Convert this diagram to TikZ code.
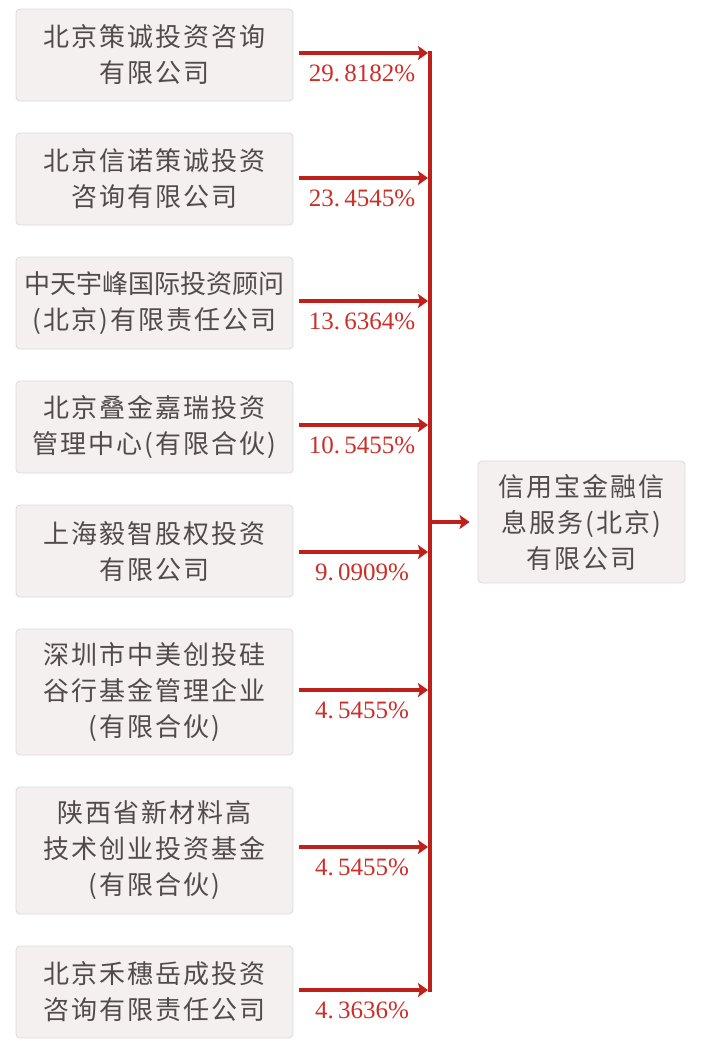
\documentclass[tikz,border=0pt]{standalone}
\usepackage{fontspec}
\newfontfamily\cjk[LetterSpace=8]{Noto Sans CJK SC}
\newfontfamily\cjktight{Noto Sans CJK SC}
\newfontfamily\pctfont{Liberation Serif}
\usetikzlibrary{arrows.meta}
\definecolor{boxfill}{HTML}{F3F0EF}
\definecolor{boxline}{HTML}{DEDAD9}
\definecolor{txtgray}{HTML}{524B4B}
\definecolor{linered}{HTML}{C0201A}
\definecolor{pctred}{HTML}{CC2E28}
\tikzset{
  holder/.style={draw=boxline, fill=boxfill, rounded corners=4pt, line width=0.8pt,
    minimum width=277pt, align=center, inner sep=0pt, text=txtgray,
    font=\cjk\fontsize{26}{36}\selectfont},
  target/.style={holder, minimum width=207pt, minimum height=122pt},
  feed/.style={draw=linered, line width=3.5pt,
    -{Stealth[length=10pt,width=14pt,inset=2pt]}},
  busline/.style={draw=linered, line width=4pt},
  pct/.style={text=pctred, font=\pctfont\fontsize{25}{25}\selectfont, inner sep=0pt}
}
\begin{document}
\begin{tikzpicture}[x=1pt,y=-1pt]
\useasboundingbox (0,0) rectangle (702,1060);
\node[holder, minimum height=92pt]  (b1) at (154.5,55)  {北京策诚投资咨询\\有限公司};
\node[holder, minimum height=92pt]  (b2) at (154.5,179) {北京信诺策诚投资\\咨询有限公司};
\node[holder, minimum height=92pt]  (b3) at (154.5,303) {{\cjktight 中天宇峰国际投资顾问}\\(北京)有限责任公司};
\node[holder, minimum height=92pt]  (b4) at (154.5,427) {北京叠金嘉瑞投资\\管理中心(有限合伙)};
\node[holder, minimum height=92pt]  (b5) at (154.5,551) {上海毅智股权投资\\有限公司};
\node[holder, minimum height=126pt] (b6) at (154.5,692) {深圳市中美创投硅\\谷行基金管理企业\\(有限合伙)};
\node[holder, minimum height=127pt] (b7) at (154.5,850.5) {陕西省新材料高\\技术创业投资基金\\(有限合伙)};
\node[holder, minimum height=92pt]  (b8) at (154.5,992) {北京禾穗岳成投资\\咨询有限责任公司};
\node[target] (t) at (581.5,522) {信用宝金融信\\息服务(北京)\\有限公司};

\coordinate (busTop) at (430,51);
\coordinate (busBot) at (430,992);
\coordinate (busMid) at (430,522);
\draw[busline] (busTop) -- (busBot);

\foreach \b/\y in {b1/53,b2/178,b3/301,b4/425,b5/552,b6/690,b7/847,b8/990}{
  \coordinate (\b s) at (299,\y);
  \coordinate (\b e) at (428,\y);
  \draw[feed] (\b s) -- (\b e);
}
\draw[feed, shorten >=8pt] (busMid) -- (t.west);

\node[pct] (p1) at (362,73)  {29.\,8182\%};
\node[pct] (p2) at (362,198) {23.\,4545\%};
\node[pct] (p3) at (362,321) {13.\,6364\%};
\node[pct] (p4) at (362,445) {10.\,5455\%};
\node[pct] (p5) at (362,572) {9.\,0909\%};
\node[pct] (p6) at (362,710) {4.\,5455\%};
\node[pct] (p7) at (362,867) {4.\,5455\%};
\node[pct] (p8) at (362,1010) {4.\,3636\%};
\end{tikzpicture}
\end{document}
